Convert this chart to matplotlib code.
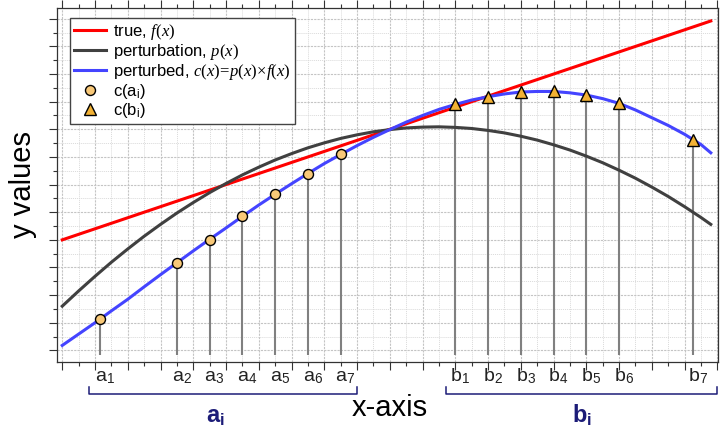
import numpy as np
import matplotlib
matplotlib.use("Agg")
import matplotlib.pyplot as plt
from matplotlib.ticker import MultipleLocator

plt.rcParams['font.family'] = ['Liberation Sans', 'DejaVu Sans']
plt.rcParams['mathtext.fontset'] = 'custom'
plt.rcParams['mathtext.rm'] = 'Liberation Serif'
plt.rcParams['mathtext.it'] = 'Liberation Serif:italic'
plt.rcParams['mathtext.sf'] = 'Liberation Sans'
plt.rcParams['mathtext.bf'] = 'Liberation Sans:bold'

# curves
x_true = [0, 19.8]
y_true = [4.0, 11.92]

x_curve = [0, 0.5, 1, 1.5, 2, 2.5, 3, 3.5, 4, 4.5, 5, 5.5, 6, 6.5, 7, 7.5, 8, 8.5,
           9, 9.5, 10, 10.5, 11, 11.5, 12, 12.5, 13, 13.5, 14, 14.5, 15, 15.5,
           16, 16.5, 17, 17.5, 18, 18.5, 19, 19.5, 19.8]
y_pert = [1.6, 2.15, 2.68, 3.19, 3.67, 4.13, 4.56, 4.97, 5.35, 5.71, 6.04, 6.35,
          6.63, 6.89, 7.12, 7.33, 7.51, 7.67, 7.80, 7.91, 7.99, 8.05, 8.08, 8.09,
          8.07, 8.03, 7.96, 7.87, 7.75, 7.61, 7.44, 7.25, 7.03, 6.79, 6.52, 6.23,
          5.91, 5.57, 5.20, 4.81, 4.56]
y_perturbed = [0.18, 0.59, 1.0, 1.43, 1.85, 2.3, 2.74, 3.17, 3.6, 4.02, 4.43, 4.85,
               5.26, 5.65, 6.03, 6.40, 6.76, 7.09, 7.41, 7.71, 7.99, 8.26, 8.5, 8.72,
               8.9, 9.06, 9.18, 9.28, 9.35, 9.37, 9.37, 9.32, 9.24, 9.11, 8.94, 8.70,
               8.42, 8.14, 7.82, 7.45, 7.15]

# sample points
a_x = [1.15, 3.5, 4.5, 5.5, 6.5, 7.5, 8.5]
a_y = [1.13, 3.17, 4.01, 4.85, 5.65, 6.40, 7.09]
b_x = [12, 13, 14, 15, 16, 17, 19.25]
b_y = [8.90, 9.18, 9.35, 9.37, 9.24, 8.94, 7.62]

fig = plt.figure(figsize=(7.2, 4.34), dpi=100)
ax = fig.add_axes([57/720, 72/434, 661/720, 354/434])

ax.set_xlim(-0.16, 20.02)
ax.set_ylim(-0.42, 12.39)

ax.plot(x_true, y_true, color='#ff0000', lw=2.2, zorder=3, label='true, $f(x)$')
ax.plot(x_curve, y_pert, color='#404040', lw=2.2, zorder=3, label='perturbation, $p(x)$')
ax.plot(x_curve, y_perturbed, color='#4444ff', lw=2.2, zorder=3,
        label='perturbed, $c(x)\\!=\\!p(x)\\!\\times\\!f(x)$')

stem_bottom = -0.18
ax.vlines(a_x, stem_bottom, a_y, color='#808080', lw=1.5, zorder=2)
ax.vlines(b_x, stem_bottom, b_y, color='#808080', lw=1.5, zorder=2)
ax.plot(a_x, a_y, 'o', ms=7.2, mfc='#f8c878', mec='black', mew=1, zorder=4,
        label='c(a$_\\mathsf{i}$)')
ax.plot(b_x, b_y, '^', ms=8, mfc='#f2b134', mec='black', mew=1, zorder=4,
        label='c(b$_\\mathsf{i}$)')

# ticks and grid
ax.xaxis.set_major_locator(MultipleLocator(1))
ax.xaxis.set_minor_locator(MultipleLocator(0.5))
ax.yaxis.set_major_locator(MultipleLocator(1))
ax.yaxis.set_minor_locator(MultipleLocator(0.5))
ax.tick_params(which='both', direction='out', top=True, bottom=True, left=True, right=False,
               labelbottom=False, labelleft=False, color='#333333', width=0.8)
ax.tick_params(which='major', length=5.8)
ax.tick_params(which='minor', length=2.9)
ax.grid(which='major', color='#c4c4c4', ls=(0, (2, 1)), lw=0.8)
ax.grid(which='minor', color='#dadada', ls=(0, (1, 1)), lw=0.7)
ax.set_axisbelow(True)
for s in ax.spines.values():
    s.set_color('#333333')
    s.set_linewidth(0.9)

# labels under the axis
for i, xv in enumerate(a_x):
    ax.text(xv - 0.16, -1.12, 'a$_\\mathsf{%d}$' % (i + 1), fontsize=14, ha='left',
            va='baseline', color='#222222', clip_on=False)
for i, xv in enumerate(b_x):
    ax.text(xv - 0.16, -1.12, 'b$_\\mathsf{%d}$' % (i + 1), fontsize=14, ha='left',
            va='baseline', color='#222222', clip_on=False)

navy = '#1c1c78'
for x0, x1 in [(0.82, 8.99), (11.72, 19.98)]:
    ax.plot([x0, x0, x1, x1], [-1.34, -1.59, -1.59, -1.34], color=navy, lw=1.1, clip_on=False)
ax.text(4.66, -2.6, 'a$_\\mathbf{i}$', fontsize=17, fontweight='bold', color=navy,
        ha='center', va='baseline', clip_on=False)
ax.text(15.87, -2.6, 'b$_\\mathbf{i}$', fontsize=17, fontweight='bold', color=navy,
        ha='center', va='baseline', clip_on=False)

ax.text(10.0, -2.36, 'x-axis', fontsize=21, ha='center', va='baseline', clip_on=False)
ax.set_ylabel('y values', fontsize=21)
ax.yaxis.set_label_coords(-0.030, 0.5)

leg = ax.legend(loc='upper left', bbox_to_anchor=(0.0197, 0.972), borderaxespad=0,
                fontsize=12, numpoints=1, handlelength=1.9, handletextpad=0.45,
                labelspacing=0.0, borderpad=0.25, fancybox=False, framealpha=1)
leg.get_frame().set_edgecolor('#444444')
leg.get_frame().set_linewidth(1.0)

fig.savefig('out.png', dpi=100)
